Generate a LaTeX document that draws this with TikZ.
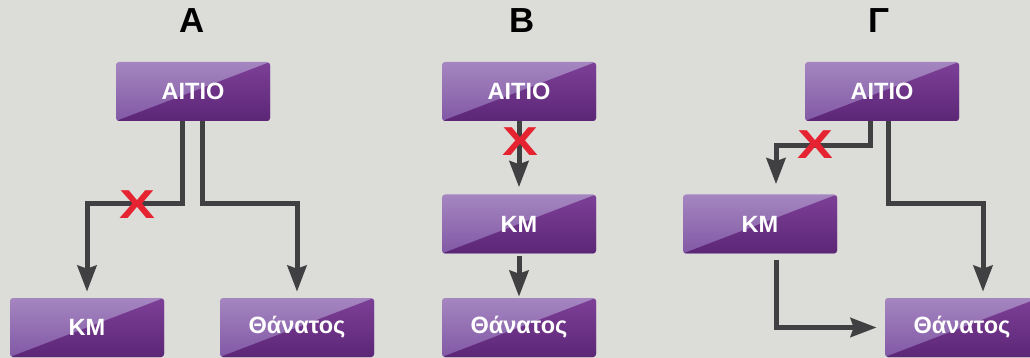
\documentclass[tikz,border=0pt]{standalone}
\usepackage{fontspec}
\setmainfont{Liberation Sans}
\usetikzlibrary{arrows.meta}

\definecolor{bggray}{HTML}{DCDDD8}
\definecolor{linegray}{HTML}{404042}
\definecolor{crossred}{HTML}{E62330}
\definecolor{boxlighttop}{HTML}{A586C0}
\definecolor{boxlightbot}{HTML}{8158A5}
\definecolor{boxdarktop}{HTML}{7D4097}
\definecolor{boxdarkbot}{HTML}{5C2676}

\tikzset{
  box/.style={rounded corners=0.06cm, minimum width=3.08cm, minimum height=1.18cm,
    inner sep=0pt, top color=boxlighttop, bottom color=boxlightbot, text=white,
    font=\bfseries\fontsize{13.4}{16}\selectfont,
    path picture={\shade[top color=boxdarktop, bottom color=boxdarkbot]
      (path picture bounding box.south west) -- (path picture bounding box.north east)
      -- (path picture bounding box.south east) -- cycle;}},
  arr/.style={line width=0.1cm, draw=linegray,
    -{Stealth[width=0.38cm,length=0.52cm,inset=0.06cm]}},
  title/.style={font=\bfseries\fontsize{19.8}{22}\selectfont},
  cross/.style={text=crossred, font=\bfseries\fontsize{23}{25}\selectfont, inner sep=0pt}
}

\begin{document}
\begin{tikzpicture}
  \clip (0,0) rectangle (20.6,-7.16);
  \fill[bggray] (0,0) rectangle (20.6,-7.16);

  % titles
  \node[title] (titleA) at (3.84,-0.42) {Α};
  \node[title] (titleB) at (10.44,-0.42) {Β};
  \node[title] (titleC) at (17.58,-0.42) {Γ};

  % A
  \node[box] (aitioA) at (3.86,-1.83) {ΑΙΤΙΟ};
  \node[box] (kmA) at (1.74,-6.55) {ΚΜ};
  \node[box] (thA) at (5.94,-6.55) {Θάνατος};
  \draw[arr,shorten >=0.12cm] ([xshift=-0.22cm]aitioA.south) -- ++(0,-1.64) -| (kmA.north);
  \draw[arr,shorten >=0.12cm] ([xshift=0.18cm]aitioA.south) -- ++(0,-1.64) -| (thA.north);
  \node[cross] (crossA) at (2.74,-4.1) {\scalebox{1.33}[1]{X}};

  % B
  \node[box] (aitioB) at (10.38,-1.83) {ΑΙΤΙΟ};
  \node[box] (kmB) at (10.38,-4.48) {ΚΜ};
  \node[box] (thB) at (10.38,-6.55) {Θάνατος};
  \draw[arr,shorten >=0.14cm] (aitioB.south) -- (kmB.north);
  \draw[arr,shorten <=0.04cm,shorten >=0.02cm] (kmB.south) -- (thB.north);
  \node[cross] (crossB) at (10.4,-2.84) {\scalebox{1.33}[1]{X}};

  % C
  \node[box] (aitioC) at (17.64,-1.83) {ΑΙΤΙΟ};
  \node[box] (kmC) at (15.2,-4.48) {ΚΜ};
  \node[box] (thC) at (19.24,-6.55) {Θάνατος};
  \draw[arr,shorten >=0.2cm] ([xshift=-0.24cm]aitioC.south) -- ++(0,-0.48) -| ([xshift=0.32cm]kmC.north);
  \draw[arr,shorten >=0.12cm] ([xshift=0.12cm]aitioC.south) -- ++(0,-1.64) -| ([xshift=0.42cm]thC.north);
  \draw[arr,shorten <=0.12cm,shorten >=0.16cm] ([xshift=0.32cm]kmC.south) |- (thC.west);
  \node[cross] (crossC) at (16.3,-2.9) {\scalebox{1.33}[1]{X}};
\end{tikzpicture}
\end{document}
